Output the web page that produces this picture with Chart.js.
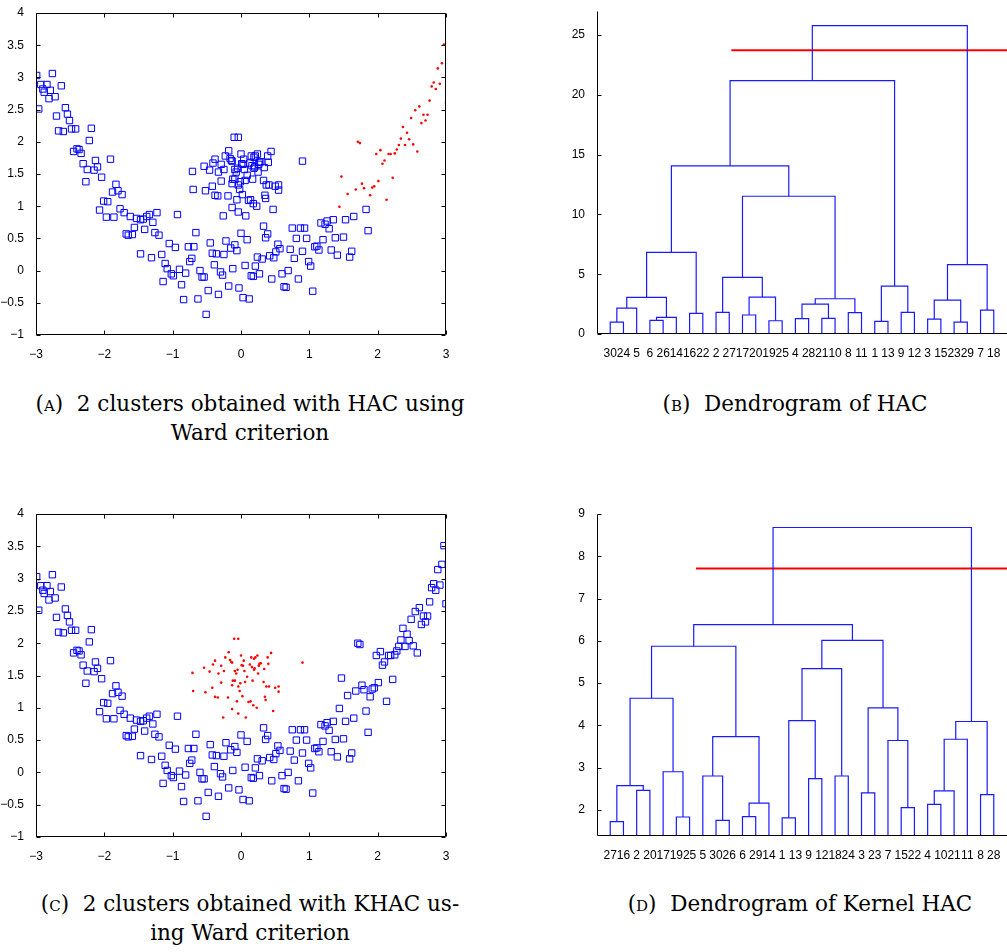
<!DOCTYPE html>
<html>
<head>
<meta charset="utf-8">
<script src="https://cdn.jsdelivr.net/npm/chart.js@4.4.1/dist/chart.umd.min.js"></script>
<style>
body { margin: 0; background: #fff; width: 1007px; height: 952px; position: relative; overflow: hidden; }
.box { position: absolute; }
.cap { position: absolute; width: 500px; font-family: 'DejaVu Serif', serif; font-size: 21.5px; color: #000; text-align: center; line-height: 29px; white-space: nowrap; }
.sc { font-variant: small-caps; }
</style>
</head>
<body>
<div class="box" style="left:0;top:0"><canvas id="chartA" width="460" height="360"></canvas></div>
<div class="box" style="left:560px;top:0"><canvas id="chartB" width="447" height="360"></canvas></div>
<div class="box" style="left:0;top:500px"><canvas id="chartC" width="460" height="362"></canvas></div>
<div class="box" style="left:560px;top:500px"><canvas id="chartD" width="447" height="362"></canvas></div>
<div class="cap" style="left:0;top:389px"><span class="sc">(a)</span>&nbsp; 2 clusters obtained with HAC using<br>Ward criterion</div>
<div class="cap" style="left:545px;top:389px"><span class="sc">(b)</span>&nbsp; Dendrogram of HAC</div>
<div class="cap" style="left:0;top:889px"><span class="sc">(c)</span>&nbsp; 2 clusters obtained with KHAC us-<br>ing Ward criterion</div>
<div class="cap" style="left:550px;top:889px"><span class="sc">(d)</span>&nbsp; Dendrogram of Kernel HAC</div>
<script>
// U shaped curve (left arm + valley)
const curvePts = [[-2.99,3.03],[-2.96,2.51],[-2.93,2.89],[-2.90,2.82],[-2.88,2.77],[-2.84,2.89],[-2.79,2.80],[-2.81,2.67],[-2.76,3.06],[-2.72,2.70],[-2.63,2.87],[-2.57,2.53],[-2.54,2.43],[-2.70,2.40],[-2.51,2.33],[-2.67,2.17],[-2.60,2.16],[-2.48,2.20],[-2.42,2.20],[-2.19,2.21],[-2.22,2.02],[-2.45,1.85],[-2.40,1.89],[-2.37,1.88],[-2.34,1.82],[-2.31,1.66],[-2.25,1.57],[-2.27,1.38],[-2.15,1.56],[-2.13,1.71],[-2.10,1.61],[-2.04,1.45],[-1.91,1.73],[-1.83,1.34],[-1.88,1.22],[-1.80,1.24],[-1.74,1.18],[-2.01,1.08],[-1.95,1.07],[-2.07,0.94],[-1.97,0.83],[-1.86,0.83],[-1.77,0.96],[-1.71,0.90],[-1.62,0.84],[-1.53,0.81],[-1.47,0.79],[-1.43,0.80],[-1.38,0.84],[-1.34,0.87],[-1.29,0.75],[-1.23,0.90],[-1.68,0.57],[-1.65,0.55],[-1.59,0.56],[-1.56,0.67],[-1.41,0.64],[-1.26,0.59],[-1.20,0.55],[-0.93,0.87],[-1.47,0.26],[-1.31,0.20],[-1.16,0.25],[-1.05,0.42],[-0.96,0.36],[-1.11,0.11],[-1.08,0.03],[-1.02,-0.05],[-0.99,-0.08],[-0.90,0.02],[-0.81,-0.04],[-1.14,-0.17],[-0.87,-0.22],[-0.84,-0.45],[-0.77,0.37],[-0.69,0.37],[-0.66,0.59],[-0.72,0.19],[-0.75,0.14],[-0.60,0.00],[-0.57,-0.10],[-0.54,-0.10],[-0.63,-0.44],[-0.48,-0.31],[-0.51,-0.68],[-0.45,0.43],[-0.42,0.27],[-0.36,0.26],[-0.39,0.09],[-0.30,-0.02],[-0.27,-0.07],[-0.33,-0.37],[-0.25,0.25],[-0.22,0.46],[-0.15,0.35],[-0.09,0.40],[-0.06,0.31],[-0.12,0.03],[-0.18,-0.24],[-0.03,-0.27],[0.03,-0.42],[0.12,-0.44],[0.00,0.58],[0.09,0.48],[0.06,0.08],[0.15,-0.08],[0.18,-0.09],[0.21,0.07],[0.24,0.21],[0.27,-0.05],[0.31,0.18],[0.33,0.69],[0.36,0.51],[0.39,0.57],[0.42,0.23],[0.48,0.20],[0.51,0.29],[0.54,0.41],[0.57,0.34],[0.45,-0.13],[0.60,-0.05],[0.63,-0.25],[0.66,-0.26],[0.69,0.00],[0.72,0.33],[0.78,0.19],[0.75,0.66],[0.84,-0.13],[0.87,0.66],[0.93,0.66],[0.81,0.50],[0.90,0.30],[0.96,0.50],[0.99,0.14],[1.02,0.07],[1.05,-0.32],[1.08,0.37],[1.11,0.38],[1.14,0.32],[1.17,0.74],[1.20,0.48],[1.23,0.72],[1.26,0.77],[1.29,0.65],[1.32,0.32],[1.35,0.79],[1.38,0.51],[1.41,0.24],[1.50,0.52],[1.53,0.79],[1.59,0.21],[1.62,0.30],[1.65,0.84],[1.83,0.95],[1.86,0.62]];
// right arm (red in A)
const armPts = [[1.44,0.99],[1.47,1.46],[1.56,1.19],[1.68,1.26],[1.71,2.00],[1.74,1.98],[1.77,1.35],[1.80,1.28],[1.89,1.17],[1.92,1.29],[1.95,1.31],[1.98,1.81],[2.01,1.39],[2.04,1.87],[2.07,1.66],[2.10,1.71],[2.13,1.10],[2.16,1.81],[2.19,1.81],[2.22,1.44],[2.25,1.82],[2.28,1.88],[2.31,1.95],[2.34,2.05],[2.37,2.23],[2.40,1.95],[2.43,2.14],[2.46,2.04],[2.52,1.96],[2.58,1.85],[2.49,2.37],[2.55,2.49],[2.61,2.55],[2.64,2.29],[2.67,2.42],[2.70,2.33],[2.73,2.42],[2.76,2.64],[2.79,2.86],[2.82,2.92],[2.85,2.82],[2.88,3.14],[2.91,2.90],[2.94,3.22],[2.97,3.51],[3.00,2.61]];
// central blob (red in C)
const blobPts = [[-0.71,1.54],[-0.70,1.26],[-0.54,1.62],[-0.52,1.24],[-0.46,1.56],[-0.42,1.31],[-0.41,1.67],[-0.38,1.73],[-0.38,1.17],[-0.34,1.16],[-0.33,1.53],[-0.29,1.39],[-0.29,1.65],[-0.26,0.85],[-0.25,1.57],[-0.23,1.78],[-0.19,1.16],[-0.18,1.86],[-0.16,1.74],[-0.14,1.71],[-0.13,1.70],[-0.13,0.98],[-0.13,1.35],[-0.12,1.42],[-0.10,2.07],[-0.09,1.57],[-0.09,1.42],[-0.07,1.53],[-0.06,1.10],[-0.05,1.59],[-0.04,2.07],[-0.04,1.33],[-0.04,0.91],[-0.02,1.26],[-0.01,1.38],[0.00,1.81],[0.01,1.66],[0.02,1.18],[0.03,1.65],[0.04,1.73],[0.05,1.57],[0.06,1.40],[0.07,0.85],[0.09,1.48],[0.11,1.09],[0.13,1.67],[0.14,1.10],[0.15,1.78],[0.16,1.63],[0.17,1.42],[0.18,1.04],[0.19,1.76],[0.19,1.59],[0.20,1.61],[0.21,1.78],[0.23,1.00],[0.24,1.81],[0.25,1.53],[0.26,1.65],[0.27,1.68],[0.29,1.69],[0.33,1.40],[0.34,1.60],[0.35,1.17],[0.36,1.12],[0.37,1.33],[0.39,1.78],[0.40,1.68],[0.41,1.33],[0.44,1.85],[0.47,0.95],[0.50,1.31],[0.55,1.33],[0.55,1.25],[0.90,1.70]];

const scatterXTicks = [-3, -2, -1, 0, 1, 2, 3];
const scatterYTicks = [-1, -0.5, 0, 0.5, 1, 1.5, 2, 2.5, 3, 3.5, 4];

// dendrogram B (HAC): leaf order, merges (ids 31.. are clusters), heights
const leavesB = [30,24,5,6,26,14,16,22,2,27,17,20,19,25,4,28,21,10,8,11,1,13,9,12,3,15,23,29,7,18];
const linkLeftB  = [30,31,6,33,32,16,35,2,17,19,39,38,4,21,43,8,45,42,37,1,9,50,49,3,23,54,7,56,53];
const linkRightB = [24,5,26,14,34,22,36,27,20,25,40,41,28,10,44,11,46,47,48,13,12,51,52,15,29,55,18,57,58];
const linkHeightB = [1.00,2.17,1.14,1.39,3.06,1.72,6.82,1.81,1.59,1.11,3.09,4.73,1.28,1.31,2.50,1.78,2.95,11.52,14.07,1.06,1.81,4.01,21.2,1.25,1.00,2.84,2.00,5.81,25.79];
const yTicksB = [0, 5, 10, 15, 20, 25];
const cutB = 23.73, cutStartB = 10.16;

// dendrogram D (Kernel HAC)
const leavesD = [27,16,2,20,17,19,25,5,30,26,6,29,14,1,13,9,12,18,24,3,23,7,15,22,4,10,21,11,8,28];
const linkLeftD  = [27,2,31,19,17,33,30,5,6,39,38,36,1,9,43,18,45,3,15,7,48,47,42,4,54,55,8,56,53];
const linkRightD = [16,20,32,25,34,35,26,37,29,14,40,41,13,12,44,24,46,23,22,49,50,51,52,10,21,11,28,57,58];
const linkHeightD = [1.72,2.46,2.57,1.83,2.90,4.64,1.75,2.80,1.84,2.16,3.73,5.87,1.81,2.74,4.11,2.80,5.34,2.40,2.05,3.64,4.41,6.01,6.38,2.13,2.45,3.67,2.36,4.09,8.68];
const yTicksD = [2, 3, 4, 5, 6, 7, 8, 9];
const cutD = 7.71, cutStartD = 7.48;

Chart.defaults.color = '#000';
Chart.defaults.font.family = "'Liberation Sans', Arial, sans-serif";
Chart.defaults.font.size = 12;

const fmt = v => String(v).replace('-', '\u2212');

// axis lines and inward tick marks, matlab style
const framePlugin = {
    id: 'frame',
    afterDraw(chart, args, opts) {
        const { ctx, chartArea: a, scales } = chart;
        const L = Math.round(a.left) + 0.5, R = Math.round(a.right) - 0.5;
        const T = Math.round(a.top) + 0.5, B = Math.round(a.bottom) - 0.5;
        ctx.save();
        ctx.strokeStyle = '#000';
        ctx.lineWidth = 1;
        ctx.beginPath();
        if (opts.box) {
            ctx.rect(L, T, R - L, B - T);
        } else {
            ctx.moveTo(L, T); ctx.lineTo(L, B); ctx.lineTo(a.right + 2, B);
        }
        scales.y.ticks.forEach(t => {
            const y = Math.round(scales.y.getPixelForValue(t.value)) + 0.5;
            ctx.moveTo(L, y); ctx.lineTo(L + 4, y);
            if (opts.box) { ctx.moveTo(R, y); ctx.lineTo(R - 4, y); }
        });
        if (opts.box) {
            scales.x.ticks.forEach(t => {
                const x = Math.round(scales.x.getPixelForValue(t.value)) + 0.5;
                ctx.moveTo(x, B); ctx.lineTo(x, B - 4);
                ctx.moveTo(x, T); ctx.lineTo(x, T + 4);
            });
        }
        ctx.stroke();
        ctx.restore();
    }
};

function toXY(pts) {
    return pts.map(p => ({ x: p[0], y: p[1] }));
}

function squares(pts) {
    return { data: toXY(pts), pointStyle: 'rect', pointRadius: 4.5, borderColor: '#0000ff', backgroundColor: 'rgba(0,0,0,0)', borderWidth: 1 };
}

function dots(pts) {
    return { data: toXY(pts), pointStyle: 'circle', pointRadius: 1.3, borderWidth: 0, backgroundColor: '#ff0000', borderColor: '#ff0000' };
}

function scatterChart(id, sets, padTop) {
    new Chart(document.getElementById(id), {
        type: 'scatter',
        data: { datasets: sets },
        options: {
            responsive: false,
            animation: false,
            layout: { padding: { top: padTop, right: 14, left: 0, bottom: 0 } },
            plugins: { legend: { display: false }, tooltip: { enabled: false }, frame: { box: true } },
            scales: {
                x: {
                    type: 'linear', min: -3, max: 3,
                    grid: { display: false }, border: { display: false },
                    afterBuildTicks: s => { s.ticks = scatterXTicks.map(v => ({ value: v })); },
                    afterFit: s => { s.height = 25; },
                    ticks: { padding: 4, maxRotation: 0, callback: fmt }
                },
                y: {
                    type: 'linear', min: -1, max: 4,
                    grid: { display: false }, border: { display: false },
                    afterBuildTicks: s => { s.ticks = scatterYTicks.map(v => ({ value: v })); },
                    afterFit: s => { s.width = 36; },
                    ticks: { padding: 4, callback: fmt }
                }
            }
        },
        plugins: [framePlugin]
    });
}

// U links of a dendrogram, built from the merge list
function dendroSets(leaves, left, right, height) {
    const n = leaves.length;
    const pos = {}, hgt = {};
    leaves.forEach((lab, i) => { pos[lab] = i + 1; hgt[lab] = 0; });
    return left.map((a, k) => {
        const b = right[k], h = height[k];
        const id = n + 1 + k;
        pos[id] = (pos[a] + pos[b]) / 2;
        hgt[id] = h;
        return {
            data: [{ x: pos[a], y: hgt[a] }, { x: pos[a], y: h }, { x: pos[b], y: h }, { x: pos[b], y: hgt[b] }],
            showLine: true, borderColor: '#1a1aff', borderWidth: 1.2, pointRadius: 0, fill: false
        };
    });
}

function dendroChart(id, leaves, left, right, height, yMin, yMax, yTicks, cut, cutStart, padTop) {
    const sets = dendroSets(leaves, left, right, height);
    sets.push({
        data: [{ x: cutStart, y: cut }, { x: leaves.length + 1, y: cut }],
        showLine: true, borderColor: '#ff0000', borderWidth: 2, pointRadius: 0
    });
    new Chart(document.getElementById(id), {
        type: 'scatter',
        data: { datasets: sets },
        options: {
            responsive: false,
            animation: false,
            layout: { padding: { top: padTop, right: 0, left: 0, bottom: 0 } },
            plugins: { legend: { display: false }, tooltip: { enabled: false }, frame: { box: false } },
            scales: {
                x: {
                    type: 'linear', min: 0, max: leaves.length + 1,
                    grid: { display: false }, border: { display: false },
                    afterBuildTicks: s => { s.ticks = leaves.map((l, i) => ({ value: i + 1 })); },
                    afterFit: s => { s.height = 26; },
                    ticks: { padding: 4, autoSkip: false, maxRotation: 0, minRotation: 0, callback: v => String(leaves[v - 1]) }
                },
                y: {
                    type: 'linear', min: yMin, max: yMax,
                    grid: { display: false }, border: { display: false },
                    afterBuildTicks: s => { s.ticks = yTicks.map(v => ({ value: v })); },
                    afterFit: s => { s.width = 37; },
                    ticks: { padding: 4 }
                }
            }
        },
        plugins: [framePlugin]
    });
}

scatterChart('chartA', [squares(curvePts.concat(blobPts)), dots(armPts)], 13);
dendroChart('chartB', leavesB, linkLeftB, linkRightB, linkHeightB, 0, 27, yTicksB, cutB, cutStartB, 11);
scatterChart('chartC', [squares(curvePts.concat(armPts)), dots(blobPts)], 14);
dendroChart('chartD', leavesD, linkLeftD, linkRightD, linkHeightD, 1.38, 9, yTicksD, cutD, cutStartD, 14);
</script>
</body>
</html>
